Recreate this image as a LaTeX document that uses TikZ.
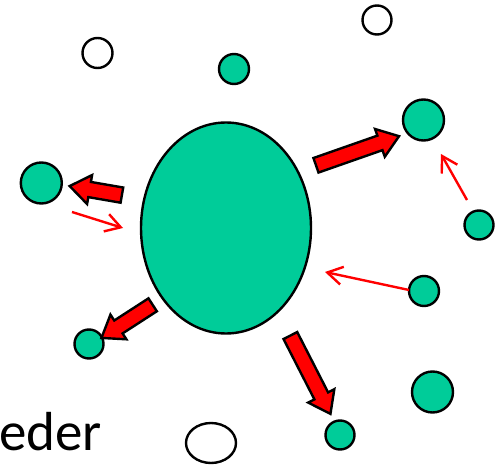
\documentclass[tikz,border=0pt]{standalone}
\usepackage{fontspec}
\setmainfont{Carlito}
\usetikzlibrary{shapes.geometric,shapes.arrows,arrows.meta}
\definecolor{mint}{RGB}{0,204,153}
\begin{document}
\begin{tikzpicture}[x=1pt,y=-1pt,
  ball/.style={circle,draw=black,line width=2.4pt,fill=mint,inner sep=0pt,minimum size=#1},
  hole/.style={circle,draw=black,line width=2.4pt,fill=white,inner sep=0pt,minimum size=#1},
  bigarrow/.style={single arrow,draw=black,line width=2.4pt,fill=red,inner sep=6.5pt,
    single arrow head extend=7pt,single arrow tip angle=72,single arrow head indent=0pt,
    minimum height=#1},
  thin/.style={draw=red,line width=2.4pt,-{Straight Barb[length=15pt,width=18pt,line width=2.4pt]}}
]
\useasboundingbox (0,0) rectangle (495,465);
% big cell
\node[ellipse,draw=black,line width=2.4pt,fill=mint,inner sep=0pt,minimum width=170pt,minimum height=211pt] (core) at (226,228) {};
% white circles
\node[hole=30pt] (w1) at (97.5,53) {};
\node[hole=29pt] (w2) at (377,20) {};
\node[ellipse,draw=black,line width=2.4pt,fill=white,inner sep=0pt,minimum width=50pt,minimum height=40pt] (w3) at (211,443) {};
% green circles
\node[ball=30pt] (g1) at (234,69) {};
\node[ball=41pt] (g2) at (423.5,120) {};
\node[ball=41pt] (g3) at (41.3,183) {};
\node[ball=29pt] (g4) at (479,225) {};
\node[ball=30pt] (g5) at (424,291) {};
\node[ball=29pt] (g6) at (89,344) {};
\node[ball=41pt] (g7) at (432.5,392) {};
\node[ball=29pt] (g8) at (340,435) {};
% thick arrows
\node[bigarrow=88pt,rotate=19.3] (a1) at (352.5,152.5) {};
\node[bigarrow=53pt,rotate=170.2] (a2) at (101,191.5) {};
\node[bigarrow=61pt,rotate=212.9] (a3) at (131.5,318.5) {};
\node[bigarrow=88pt,rotate=-62.9] (a4) at (308,370) {};
% thin arrows
\coordinate (s1) at (72,212);  \coordinate (t1) at (123,228);
\coordinate (s2) at (409,290); \coordinate (t2) at (325,272);
\coordinate (s3) at (467,200); \coordinate (t3) at (441,154);
\draw[thin] (s1) -- (t1);
\draw[thin] (s2) -- (t2);
\draw[thin] (s3) -- (t3);
% text
\node[anchor=base west,inner sep=0pt,font=\fontsize{55}{60}\selectfont] (lbl) at (-1,450) {eder};
\end{tikzpicture}
\end{document}
